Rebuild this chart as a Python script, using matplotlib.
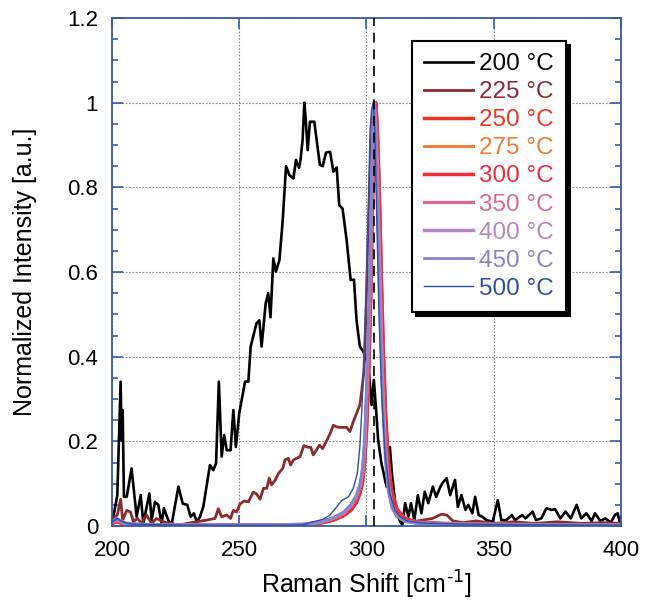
import matplotlib
matplotlib.use("Agg")
import matplotlib.pyplot as plt

plt.rcParams['font.family'] = ['Liberation Sans', 'DejaVu Sans']

# 200 C: broad noisy band
t200_x = [200.5, 202.1, 203.4, 203.8, 204.2, 204.7, 205.8, 207.7, 209.7, 211.3, 212.3, 214.7, 215.6,
          216.9, 218.2, 219.5, 220.4, 222.1, 223.4, 226.1, 227.8, 229.6, 230.9, 232.2, 233.3, 234.6,
          235.9, 238.5, 239.8, 240.9, 242.0, 243.1, 244.1, 245.1, 246.6, 247.7, 248.7, 250.0, 252.3,
          253.6, 254.5, 256.8, 257.9, 258.8, 260.4, 261.4, 262.3, 263.4, 264.4, 265.8, 267.1, 268.4,
          269.7, 271.3, 272.3, 273.5, 274.1, 274.9, 275.6, 276.2, 276.9, 277.8, 279.5, 281.7, 282.8,
          284.1, 285.7, 287.0, 288.3, 289.3, 290.6, 292.2, 293.8, 295.1, 296.1, 297.4, 298.8, 300.1,
          301.1, 302.0, 302.9, 303.7, 304.6, 305.9, 307.9, 309.2, 310.0, 311.3, 313.0, 314.1, 315.2,
          316.5, 317.5, 318.8, 320.2, 321.6, 322.9, 324.3, 326.1, 327.4, 328.8, 329.8, 331.5, 332.9,
          334.8, 335.9, 337.3, 338.9, 340.0, 341.6, 342.7, 344.1, 345.5, 347.1, 349.6, 351.6, 353.0,
          355.0, 357.1, 358.4, 361.2, 362.5, 365.3, 366.6, 368.7, 370.7, 372.8, 374.1, 376.2, 378.2,
          380.3, 382.6, 384.4, 386.4, 388.5, 389.8, 391.9, 393.9, 396.0, 397.6, 398.7, 399.5]
t200_y = [0.02, 0.073, 0.341, 0.203, 0.274, 0.069, 0.069, 0.136, 0.022, 0.073, 0.006, 0.077, 0.014,
          0.057, 0.050, 0.006, 0.042, 0.014, 0.002, 0.093, 0.053, 0.050, 0.022, 0.030, 0.010, 0.022,
          0.046, 0.144, 0.132, 0.148, 0.341, 0.164, 0.215, 0.179, 0.179, 0.274, 0.187, 0.266, 0.341,
          0.341, 0.424, 0.479, 0.486, 0.424, 0.526, 0.550, 0.493, 0.632, 0.601, 0.628, 0.723, 0.850,
          0.829, 0.821, 0.865, 0.846, 0.865, 0.912, 1.0, 0.955, 0.888, 0.955, 0.955, 0.853, 0.850,
          0.882, 0.884, 0.837, 0.847, 0.758, 0.750, 0.676, 0.581, 0.582, 0.486, 0.424, 0.412, 0.392,
          0.353, 0.286, 0.345, 0.282, 0.203, 0.148, 0.093, 0.187, 0.124, 0.054, 0.014, 0.002, 0.054,
          0.022, 0.054, 0.014, 0.073, 0.030, 0.081, 0.054, 0.093, 0.069, 0.089, 0.101, 0.113, 0.073,
          0.109, 0.045, 0.073, 0.038, 0.050, 0.030, 0.069, 0.026, 0.022, 0.014, 0.010, 0.061, 0.014,
          0.014, 0.026, 0.014, 0.026, 0.018, 0.034, 0.014, 0.018, 0.042, 0.038, 0.040, 0.018, 0.034,
          0.018, 0.050, 0.018, 0.030, 0.012, 0.030, 0.012, 0.018, 0.008, 0.026, 0.030, 0.010]

# 225 C: rising shoulder plus peak
t225_x = [200.5, 202.1, 203.4, 204.2, 205.8, 207.3, 208.4, 210.0, 211.7, 213.6, 215.6, 217.5, 220.2,
          222.8, 226.7, 229.3, 233.3, 237.2, 240.5, 241.8, 243.1, 245.1, 246.6, 247.7, 249.0, 250.3,
          251.9, 253.6, 255.5, 256.8, 258.2, 259.5, 260.8, 261.8, 262.7, 264.1, 265.4, 267.1, 268.0,
          269.3, 270.2, 271.3, 272.6, 273.9, 275.4, 277.1, 278.1, 279.1, 280.4, 281.5, 282.8, 284.3,
          285.7, 287.0, 288.3, 289.6, 292.2, 293.5, 294.8, 296.1, 297.4, 298.1, 299.0, 299.8, 300.5,
          301.5, 302.4, 303.0, 303.6, 304.2, 305.0, 305.8, 306.6, 307.5, 308.5, 310.0, 312.0, 315.0,
          318.0, 322.0, 326.0, 329.5, 331.5, 334.0, 338.0, 343.0, 350.0, 358.0, 366.0, 375.0, 385.0,
          393.0, 400.0]
t225_y = [0.02, 0.026, 0.063, 0.014, 0.037, 0.033, 0.010, 0.018, 0.006, 0.026, 0.006, 0.018, 0.010,
          0.006, 0.002, 0.006, 0.010, 0.014, 0.018, 0.041, 0.022, 0.026, 0.018, 0.037, 0.033, 0.052,
          0.059, 0.057, 0.080, 0.076, 0.063, 0.089, 0.089, 0.113, 0.097, 0.108, 0.124, 0.136, 0.156,
          0.160, 0.144, 0.156, 0.160, 0.164, 0.190, 0.186, 0.186, 0.168, 0.180, 0.191, 0.183, 0.201,
          0.218, 0.238, 0.234, 0.233, 0.233, 0.223, 0.246, 0.266, 0.286, 0.317, 0.365, 0.50, 0.65,
          0.85, 0.98, 1.0, 0.96, 0.87, 0.68, 0.47, 0.31, 0.18, 0.10, 0.05, 0.022, 0.012,
          0.010, 0.014, 0.018, 0.028, 0.026, 0.012, 0.008, 0.012, 0.006, 0.010, 0.006, 0.010, 0.006,
          0.008, 0.006]

# narrow peak, common grid
peak_x = [200, 202, 205, 210, 220, 240, 260, 275, 282, 287, 291, 294, 296, 297.5, 298.5, 299.3, 300,
          300.8, 301.6, 302.4, 303.0, 303.6, 304.2, 305.0, 305.8, 306.6, 307.5, 308.5, 310, 312, 315,
          320, 330, 345, 370, 400]
t250_y = [0.006, 0.010, 0.004, 0.003, 0.002, 0.002, 0.002, 0.003, 0.007, 0.014, 0.024, 0.038, 0.055,
          0.078, 0.105, 0.15, 0.22, 0.34, 0.52, 0.76, 0.93, 1.0, 0.95, 0.80, 0.60, 0.42, 0.27, 0.16,
          0.08, 0.04, 0.018, 0.009, 0.006, 0.004, 0.003, 0.002]
t275_y = [0.007, 0.012, 0.005, 0.003, 0.002, 0.002, 0.002, 0.003, 0.008, 0.015, 0.026, 0.040, 0.058,
          0.082, 0.11, 0.16, 0.24, 0.37, 0.56, 0.80, 0.95, 1.0, 0.94, 0.78, 0.58, 0.40, 0.26, 0.15,
          0.075, 0.038, 0.018, 0.009, 0.006, 0.004, 0.003, 0.002]
t300_y = [0.006, 0.011, 0.004, 0.003, 0.002, 0.002, 0.002, 0.003, 0.007, 0.014, 0.025, 0.039, 0.056,
          0.080, 0.108, 0.155, 0.23, 0.35, 0.54, 0.78, 0.94, 1.0, 0.94, 0.79, 0.59, 0.41, 0.26, 0.155,
          0.078, 0.039, 0.018, 0.009, 0.006, 0.004, 0.003, 0.002]
t350_y = [0.008, 0.015, 0.006, 0.004, 0.002, 0.002, 0.002, 0.004, 0.009, 0.018, 0.030, 0.048, 0.068,
          0.095, 0.13, 0.19, 0.29, 0.44, 0.64, 0.87, 1.0, 0.96, 0.86, 0.66, 0.46, 0.30, 0.18, 0.10,
          0.05, 0.025, 0.012, 0.007, 0.005, 0.004, 0.003, 0.002]
t400_y = [0.009, 0.016, 0.006, 0.004, 0.002, 0.002, 0.002, 0.004, 0.009, 0.019, 0.031, 0.049, 0.069,
          0.096, 0.13, 0.19, 0.30, 0.45, 0.65, 0.88, 1.0, 0.95, 0.85, 0.65, 0.45, 0.29, 0.175, 0.10,
          0.05, 0.025, 0.012, 0.007, 0.005, 0.004, 0.003, 0.002]
t450_y = [0.010, 0.018, 0.008, 0.004, 0.003, 0.002, 0.002, 0.004, 0.010, 0.020, 0.033, 0.052, 0.072,
          0.10, 0.14, 0.21, 0.32, 0.48, 0.70, 0.92, 1.0, 0.93, 0.80, 0.60, 0.41, 0.26, 0.15, 0.085,
          0.042, 0.022, 0.011, 0.006, 0.004, 0.003, 0.003, 0.002]

# 500 C: thin line with left shoulder
t500_x = [200, 202, 203.5, 206, 210, 220, 240, 260, 270, 275, 279, 283, 285.7, 288.3, 290.2, 292.9,
          294.8, 296.4, 297.4, 298.1, 299.0, 299.8, 300.7, 301.4, 302.0, 302.7, 303.3, 304.0, 304.9,
          306.0, 307.3, 309.2, 311.2, 313.2, 316, 322, 335, 360, 400]
t500_y = [0.008, 0.018, 0.012, 0.006, 0.004, 0.003, 0.002, 0.002, 0.002, 0.003, 0.010, 0.016, 0.026,
          0.045, 0.060, 0.069, 0.089, 0.124, 0.187, 0.266, 0.384, 0.541, 0.738, 0.935, 0.983, 1.0,
          0.93, 0.738, 0.502, 0.305, 0.171, 0.077, 0.037, 0.022, 0.012, 0.007, 0.005, 0.003, 0.002]

labels = ['200 °C', '225 °C', '250 °C', '275 °C', '300 °C', '350 °C', '400 °C', '450 °C', '500 °C']
colors = ['#000000', '#8a2b2e', '#ee3524', '#f37b35', '#ef2d3a', '#e0688f', '#b387c2', '#8584c8', '#2f4fa6']
widths = [1.9, 2.0, 2.5, 2.1, 2.5, 2.3, 2.5, 2.0, 1.0]

xticks = [200, 250, 300, 350, 400]
yticks = [0, 0.2, 0.4, 0.6, 0.8, 1.0, 1.2]
ytick_labels = ['0', '0.2', '0.4', '0.6', '0.8', '1', '1.2']
ref_line = 303

series = [(t200_x, t200_y), (t225_x, t225_y), (peak_x, t250_y), (peak_x, t275_y), (peak_x, t300_y),
          (peak_x, t350_y), (peak_x, t400_y), (peak_x, t450_y), (t500_x, t500_y)]

fig = plt.figure(figsize=(6.45, 6.07), dpi=100)
ax = fig.add_axes([0.1736, 0.1334, 0.7891, 0.8369])

for (xs, ys), lab, col, lw in zip(series, labels, colors, widths):
    ax.plot(xs, ys, color=col, lw=lw, label=lab)

ax.axvline(ref_line, color='black', lw=1.2, dashes=(6, 4), zorder=5)

ax.set_xlim(200, 400)
ax.set_ylim(0, 1.2)
ax.set_xticks(xticks)
ax.set_yticks(yticks)
ax.set_yticklabels(ytick_labels)
ax.set_yticks([i * 0.05 for i in range(25)], minor=True)

spine_col = '#3a5aa8'
for s in ax.spines.values():
    s.set_color(spine_col)
    s.set_linewidth(1.3)
ax.tick_params(which='both', direction='in', top=True, right=True, color=spine_col,
               labelsize=16, width=1.2)
ax.tick_params(which='major', length=8, pad=10)
ax.tick_params(which='minor', length=4)
ax.grid(True, which='major', color='#888888', ls=(0, (1.5, 1.5)), lw=0.8)

ax.set_xlabel('Raman Shift [cm$^{\\text{-1}}$]', fontsize=18)
ax.set_ylabel('Normalized Intensity [a.u.]', fontsize=18)
ax.xaxis.set_label_coords(0.5, -0.085)
ax.yaxis.set_label_coords(-0.148, 0.5)

leg = ax.legend(loc='upper right', bbox_to_anchor=(0.892, 0.955), borderaxespad=0,
                fontsize=17.5, labelcolor='linecolor', frameon=True, fancybox=False,
                handlelength=2.0, handletextpad=0.25, labelspacing=0.25, borderpad=0.5,
                shadow={'ox': 3, 'oy': -3, 'color': 'black', 'alpha': 1})
leg.get_frame().set_edgecolor('black')
leg.get_frame().set_linewidth(1.5)
leg.set_zorder(10)

fig.savefig('out.png', dpi=100)
